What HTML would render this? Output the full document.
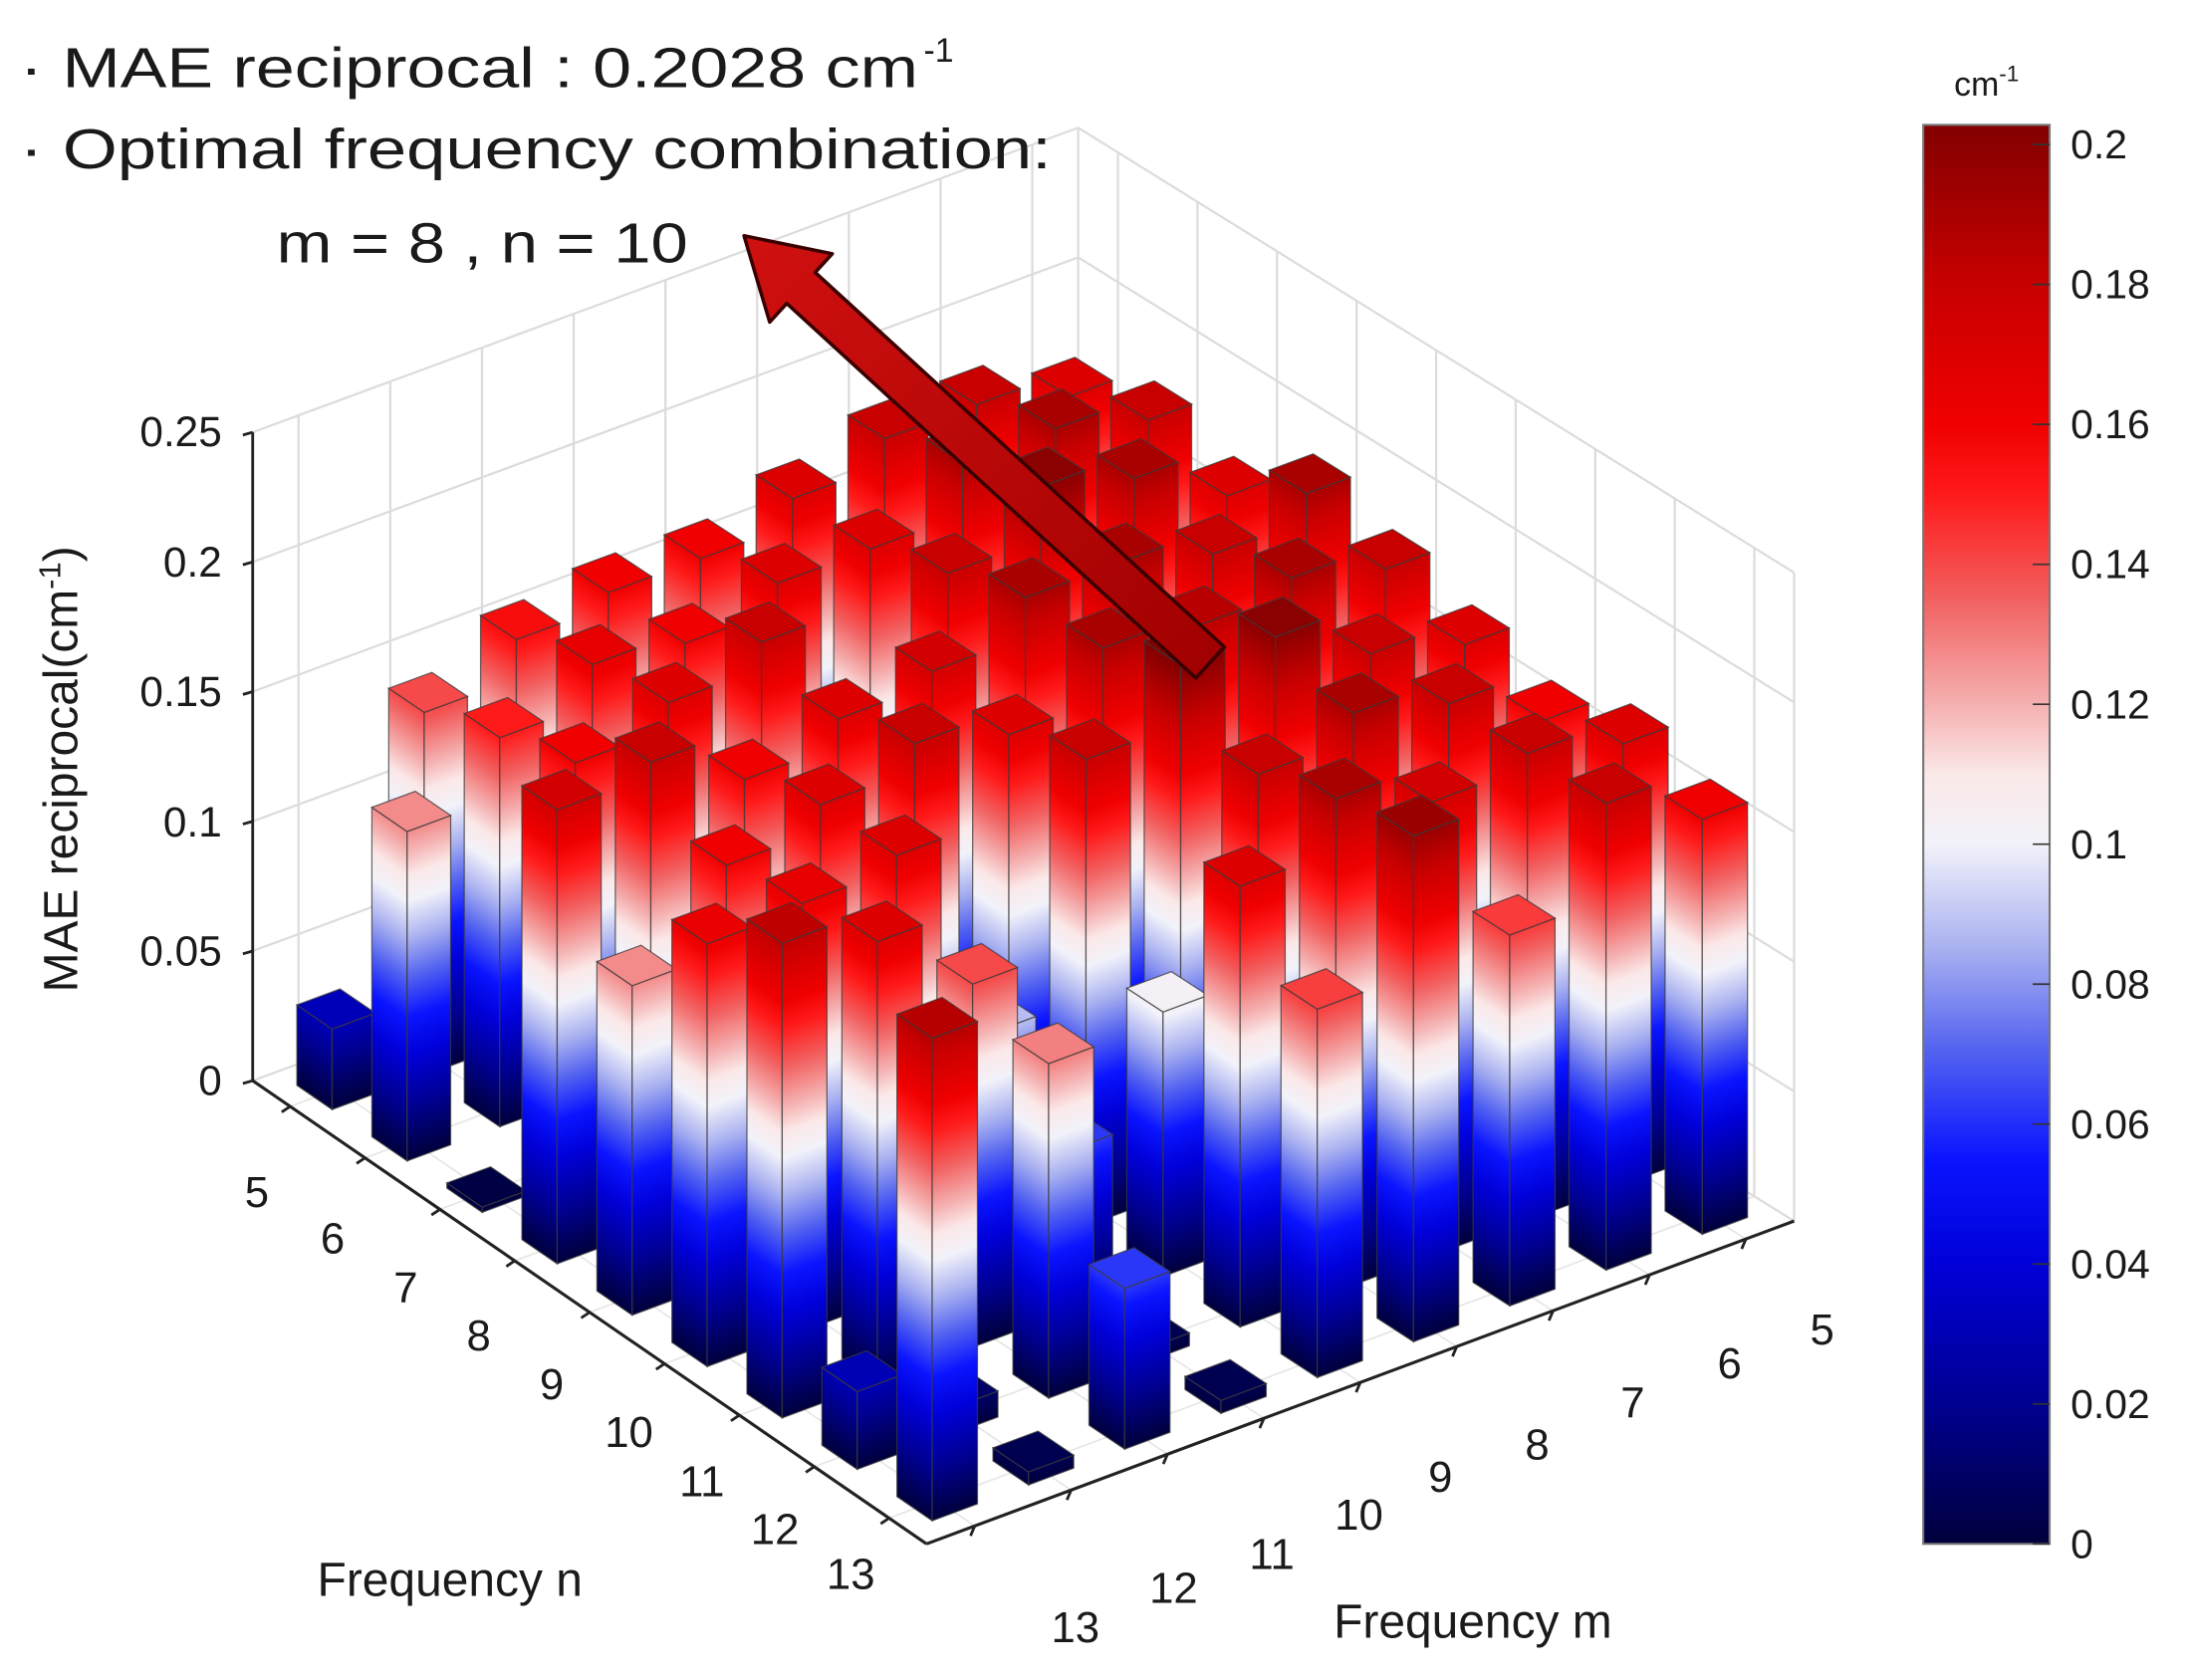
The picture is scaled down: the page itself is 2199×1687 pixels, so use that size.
<!DOCTYPE html>
<html><head><meta charset="utf-8">
<style>
html,body{margin:0;padding:0;background:#fff;}
svg{display:block;}
text{font-family:"Liberation Sans",sans-serif;fill:#1a1a1a;}
</style></head>
<body>
<svg id="s" xmlns="http://www.w3.org/2000/svg" width="2199" height="1687" viewBox="0 0 1560 1197" preserveAspectRatio="none">
<defs id="defs">
<linearGradient id="cb" x1="0" y1="1" x2="0" y2="0"></linearGradient>
<linearGradient id="arr" x1="0" y1="0" x2="1" y2="1"><stop offset="0" stop-color="#d01010"/><stop offset="1" stop-color="#a00000"/></linearGradient>
</defs>
<g id="grid"></g>
<g id="bars"></g>
<g id="fg"></g>
<text x="14" y="62" font-size="40" textLength="640" lengthAdjust="spacingAndGlyphs">· MAE reciprocal : 0.2028 cm</text>
<text x="658" y="44" font-size="24">-1</text>
<text x="14" y="120" font-size="40" textLength="735" lengthAdjust="spacingAndGlyphs">· Optimal frequency combination:</text>
<text x="197" y="187" font-size="40" textLength="293" lengthAdjust="spacingAndGlyphs">m = 8 , n = 10</text>
<g font-size="30" text-anchor="end">
<text x="158" y="318">0.25</text>
<text x="158" y="411">0.2</text>
<text x="158" y="503">0.15</text>
<text x="158" y="596">0.1</text>
<text x="158" y="688">0.05</text>
<text x="158" y="780">0</text>
</g>
<text transform="translate(55,548) rotate(-90)" font-size="34" text-anchor="middle">MAE reciprocal(cm<tspan dy="-12" font-size="22">-1</tspan><tspan dy="12">)</tspan></text>
<g font-size="31" text-anchor="middle">
<text x="183" y="860">5</text><text x="237" y="893">6</text><text x="289" y="928">7</text>
<text x="341" y="962">8</text><text x="393" y="997">9</text><text x="448" y="1031">10</text>
<text x="500" y="1066">11</text><text x="552" y="1100">12</text><text x="606" y="1132">13</text>
<text x="1298" y="958">5</text><text x="1232" y="982">6</text><text x="1163" y="1010">7</text>
<text x="1095" y="1040">8</text><text x="1026" y="1063">9</text><text x="968" y="1090">10</text>
<text x="906" y="1118">11</text><text x="836" y="1142">12</text><text x="766" y="1170">13</text>
</g>
<text x="226" y="1137" font-size="34">Frequency n</text>
<text x="950" y="1167" font-size="34">Frequency m</text>
<rect x="1370" y="89" width="90" height="1011" fill="url(#cb)" stroke="#777" stroke-width="1.5"/>
<text x="1392" y="68" font-size="24">cm<tspan dy="-10" font-size="16">-1</tspan></text>
<g id="cbt" font-size="29"></g>
</svg>
<script>
(function(){
var NS="http://www.w3.org/2000/svg";
function el(t,a,p){var e=document.createElementNS(NS,t);for(var k in a)e.setAttribute(k,a[k]);p.appendChild(e);return e;}
var cmap=[[0,"#00003c"],[0.02,"#000090"],[0.04,"#0000d8"],[0.055,"#0a14ff"],[0.07,"#5060f0"],[0.085,"#a8b0f0"],[0.1,"#f2f2fa"],[0.11,"#fbe8e8"],[0.12,"#f5b0b0"],[0.135,"#f26060"],[0.15,"#ff1a1a"],[0.16,"#f00000"],[0.18,"#c80000"],[0.2028,"#820000"]];
var ZMAX=0.2028;
function hex(c){return [parseInt(c.substr(1,2),16),parseInt(c.substr(3,2),16),parseInt(c.substr(5,2),16)];}
function col(z){if(z<=0)return cmap[0][1];for(var i=1;i<cmap.length;i++){if(z<=cmap[i][0]){var a=cmap[i-1],b=cmap[i];var t=(z-a[0])/(b[0]-a[0]);var A=hex(a[1]),B=hex(b[1]);return "rgb("+Math.round(A[0]+(B[0]-A[0])*t)+","+Math.round(A[1]+(B[1]-A[1])*t)+","+Math.round(A[2]+(B[2]-A[2])*t)+")";}}return cmap[cmap.length-1][1];}
var defs=document.getElementById("defs");
var cb=document.getElementById("cb");
cmap.forEach(function(s){el("stop",{offset:s[0]/ZMAX,"stop-color":s[1]},cb);});
var cbt=document.getElementById("cbt");
for(var k=0;k<=10;k++){var v=k*0.02;var y=1100-v*(1011/ZMAX);
 el("line",{x1:1448,y1:y,x2:1460,y2:y,stroke:"#333","stroke-width":1.2},cbt);
 var t=el("text",{x:1475,y:y+10},cbt);t.textContent=(k==0?"0":(k==10?"0.2":(v.toFixed(2).replace(/0$/,""))));}
var L=[180,770],F=[660,1100],R=[1278,870],B=[768,553],S=1848;
function P(u,v){return [L[0]*(1-u)*(1-v)+F[0]*u*(1-v)+B[0]*(1-u)*v+R[0]*u*v, L[1]*(1-u)*(1-v)+F[1]*u*(1-v)+B[1]*(1-u)*v+R[1]*u*v];}
var g=document.getElementById("grid");
function line(a,b,st,w,p){el("line",{x1:a[0],y1:a[1],x2:b[0],y2:b[1],stroke:st,"stroke-width":w},p||g);}
var gc="#dcdcdc";
for(var k=1;k<=5;k++){var dz=k*0.05*S;
 line([L[0],L[1]-dz],[B[0],B[1]-dz],gc,1.6);
 line([B[0],B[1]-dz],[R[0],R[1]-dz],gc,1.6);}
for(var j=0;j<9;j++){var q=P(0,(j+0.5)/9);line(q,[q[0],q[1]-0.25*S],gc,1.6);}
for(var i=0;i<9;i++){var q=P((i+0.5)/9,1);line(q,[q[0],q[1]-0.25*S],gc,1.6);}
line(B,[B[0],B[1]-0.25*S],gc,1.6);
line([R[0],R[1]],[R[0],R[1]-0.25*S],gc,1.6);
for(var i=0;i<9;i++){line(P((i+0.5)/9,0),P((i+0.5)/9,1),"#e6e6e6",1.2);line(P(0,(i+0.5)/9),P(1,(i+0.5)/9),"#e6e6e6",1.2);}
line(L,B,gc,1.6);line(B,R,gc,1.6);
line([L[0],L[1]],[L[0],L[1]-0.25*S],"#222",2);
for(var k=0;k<=5;k++){var y=L[1]-k*0.05*S;line([L[0]-7,y+2],[L[0],y],"#222",2);}
line(L,F,"#222",2.2);line(F,R,"#222",2.2);
for(var i=0;i<9;i++){var q=P((i+0.5)/9,0);line(q,[q[0]-6,q[1]+4],"#222",2);var r=P(1,(i+0.5)/9);line(r,[r[0]-3,r[1]+7],"#222",2);}
var H=[
[0.17,0.18,0.18,0.17,0.16,0.16,0.155,0.14,0.031],
[0.18,0.19,0.19,0.17,0.17,0.16,0.165,0.15,0.127],
[0.17,0.19,0.2,0.18,0.117,0.18,0.17,0.16,0.0],
[0.19,0.18,0.19,0.19,0.175,0.17,0.16,0.18,0.175],
[0.18,0.19,0.185,0.19,0.17,0.18,0.17,0.16,0.127],
[0.17,0.18,0.2,0.2028,0.18,0.088,0.17,0.165,0.163],
[0.16,0.18,0.19,0.18,0.102,0.062,0.14,0.17,0.183],
[0.17,0.18,0.175,0.19,0.17,0.005,0.129,0.01,0.03],
[0.16,0.18,0.143,0.195,0.142,0.005,0.062,0.005,0.186]];
var list=[];
for(var n=5;n<=13;n++)for(var m=5;m<=13;m++){list.push({i:n-5,j:13-m,h:H[n-5][m-5]});}
list.sort(function(a,b){return (a.i-a.j)-(b.i-b.j);});
var bars=document.getElementById("bars");var gid=0;var d=0.235/9;
function face(p1,p2,h){
 var k=(p2[1]-p1[1])/(p2[0]-p1[0]);var c0=p1[1]-k*p1[0];
 var id="g"+(gid++);
 var lg=el("linearGradient",{id:id,gradientUnits:"userSpaceOnUse",x1:0,y1:c0,x2:0,y2:c0-ZMAX*S,gradientTransform:"matrix(1,"+k+",0,1,0,0)"},defs);
 cmap.forEach(function(s){el("stop",{offset:s[0]/ZMAX,"stop-color":s[1]},lg);});
 var dh=h*S;
 el("polygon",{points:[p1[0],p1[1],p2[0],p2[1],p2[0],p2[1]-dh,p1[0],p1[1]-dh].join(","),fill:"url(#"+id+")",stroke:"#3a3a3a","stroke-width":0.9,"stroke-opacity":0.75},bars);
}
list.forEach(function(b){
 var u=(b.i+0.5)/9,v=(b.j+0.5)/9,h=Math.max(b.h,0.002);
 var lf=P(u-d,v-d),fr=P(u+d,v-d),rt=P(u+d,v+d),bk=P(u-d,v+d);
 face(lf,fr,h);face(fr,rt,h);
 var dh=h*S;
 el("polygon",{points:[lf[0],lf[1]-dh,fr[0],fr[1]-dh,rt[0],rt[1]-dh,bk[0],bk[1]-dh].join(","),fill:col(h),stroke:"#3a3a3a","stroke-width":0.9,"stroke-opacity":0.75},bars);
});
var fg=document.getElementById("fg");
var tip=[530,168],tail=[862,472];
var dx=tail[0]-tip[0],dy=tail[1]-tip[1],len=Math.sqrt(dx*dx+dy*dy);dx/=len;dy/=len;var px=-dy,py=dx;
var hl=55,hw=33,sw=15;
var hb=[tip[0]+dx*hl,tip[1]+dy*hl];
var pts=[tip,[hb[0]+px*hw,hb[1]+py*hw],[hb[0]+px*sw,hb[1]+py*sw],[tail[0]+px*sw,tail[1]+py*sw],[tail[0]-px*sw,tail[1]-py*sw],[hb[0]-px*sw,hb[1]-py*sw],[hb[0]-px*hw,hb[1]-py*hw]];
el("polygon",{points:pts.map(function(p){return p.join(",");}).join(" "),fill:"url(#arr)",stroke:"#3a0000","stroke-width":2.5,"stroke-linejoin":"round"},fg);
})();
</script>
</body></html>
